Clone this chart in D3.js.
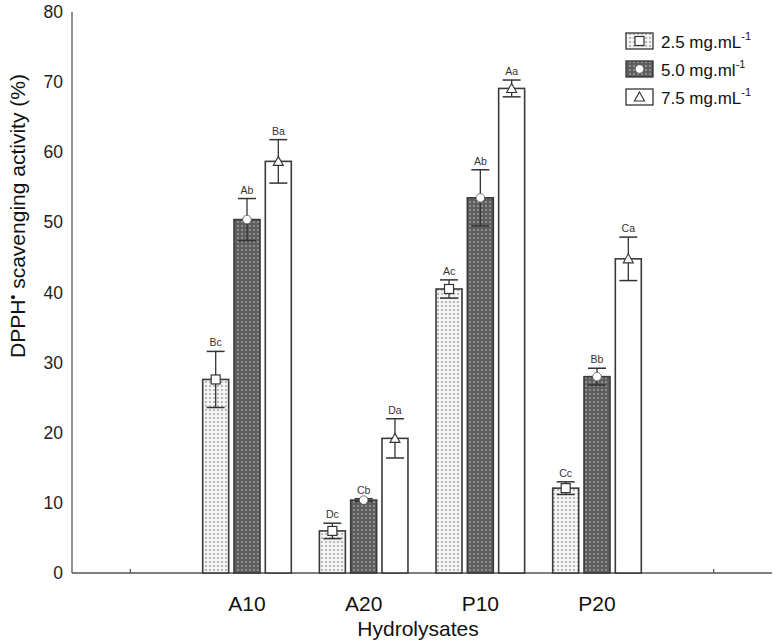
<!DOCTYPE html>
<html><head><meta charset="utf-8">
<script src="https://cdn.jsdelivr.net/npm/d3@7"></script>
<style>body{margin:0;background:#fff}svg{display:block}text{font-family:"Liberation Sans",Arial,sans-serif}</style>
</head><body><svg id="c" width="774" height="641"></svg>
<script>
const categories = ["", "A10", "A20", "P10", "P20", " "];
const groups = ["A10", "A20", "P10", "P20"];
const series = ["2.5", "5.0", "7.5"];
const legendLabels = [["2.5 mg.mL", "-1"], ["5.0 mg.ml", "-1"], ["7.5 mg.mL", "-1"]];
const values = [
  [27.6, 50.4, 58.7],
  [6.0, 10.4, 19.2],
  [40.5, 53.5, 69.1],
  [12.1, 28.0, 44.8]
];
const errors = [
  [4.0, 3.0, 3.1],
  [1.1, 0.2, 2.8],
  [1.3, 4.0, 1.2],
  [0.9, 1.2, 3.1]
];
const letters = [
  ["Bc", "Ab", "Ba"],
  ["Dc", "Cb", "Da"],
  ["Ac", "Ab", "Aa"],
  ["Cc", "Bb", "Ca"]
];
const yTicks = [0, 10, 20, 30, 40, 50, 60, 70, 80];

const svg = d3.select("#c");
const defs = svg.append("defs");
const p1 = defs.append("pattern").attr("id","pat1").attr("width",4).attr("height",4).attr("patternUnits","userSpaceOnUse");
p1.append("rect").attr("width",4).attr("height",4).attr("fill","#f4f4f4");
p1.append("rect").attr("x",1).attr("y",1).attr("width",2).attr("height",2).attr("fill","#b8b8b8");
const p2 = defs.append("pattern").attr("id","pat2").attr("width",4).attr("height",4).attr("patternUnits","userSpaceOnUse");
p2.append("rect").attr("width",4).attr("height",4).attr("fill","#5e5e5e");
p2.append("rect").attr("x",1).attr("y",1).attr("width",2).attr("height",2).attr("fill","#8e8e8e");
const fills = ["url(#pat1)", "url(#pat2)", "#fff"];

const x = d3.scaleBand().domain(categories).range([72, 772]);
const xs = d3.scaleBand().domain(series).range([-44.3, 44.3]).paddingInner(0.17);
const y = d3.scaleLinear().domain([0, 80]).range([573, 12]);
const cx = g => x(g) + x.bandwidth()/2;

// y axis
svg.append("line").attr("x1",72).attr("x2",72).attr("y1",y(80)).attr("y2",y(0)).attr("stroke","#555").attr("stroke-width",1.3);
svg.selectAll(".yt").data(yTicks).join("text")
  .attr("x",63).attr("y",d=>y(d)+6).attr("text-anchor","end")
  .attr("font-size",17.5).attr("fill","#222").text(d=>d);

// x axis + inward ticks
svg.append("line").attr("x1",72).attr("x2",772).attr("y1",y(0)).attr("y2",y(0)).attr("stroke","#555").attr("stroke-width",1.5);
svg.selectAll(".xt").data(categories).join("line")
  .attr("x1",d=>cx(d)).attr("x2",d=>cx(d)).attr("y1",y(0)).attr("y2",y(0)-4).attr("stroke","#555").attr("stroke-width",1.3);
svg.selectAll(".xl").data(groups).join("text")
  .attr("x",d=>cx(d)).attr("y",611).attr("text-anchor","middle")
  .attr("font-size",21).attr("fill","#111").text(d=>d);
svg.append("text").attr("x",418).attr("y",636).attr("text-anchor","middle").attr("font-size",21).attr("fill","#111").text("Hydrolysates");

// y title
const yt = svg.append("text").attr("transform","translate(25,216) rotate(-90)").attr("text-anchor","middle").attr("font-size",21).attr("fill","#111");
yt.append("tspan").text("DPPH");
yt.append("tspan").attr("dy",-7).attr("font-size",14).text("•");
yt.append("tspan").attr("dy",7).text(" scavenging activity (%)");

function marker(sel, si, mx, my) {
  if (si === 0) sel.append("rect").attr("x",mx-4.5).attr("y",my-4.5).attr("width",9).attr("height",9).attr("fill","#fff").attr("stroke","#333").attr("stroke-width",1.2);
  else if (si === 1) sel.append("circle").attr("cx",mx).attr("cy",my).attr("r",4.3).attr("fill","#fff").attr("stroke","#555").attr("stroke-width",0.8);
  else sel.append("path").attr("d",`M${mx},${my-5}L${mx+5},${my+4}L${mx-5},${my+4}Z`).attr("fill","#fff").attr("stroke","#333").attr("stroke-width",1.1);
}

groups.forEach((g, gi) => {
  series.forEach((s, si) => {
    const v = values[gi][si], e = errors[gi][si];
    const bx = cx(g) + xs(s), bw = xs.bandwidth(), mx = bx + bw/2;
    const G = svg.append("g");
    G.append("rect").attr("x",bx).attr("y",y(v)).attr("width",bw).attr("height",y(0)-y(v))
      .attr("fill",fills[si]).attr("stroke","#3a3a3a").attr("stroke-width",1.6);
    G.append("line").attr("x1",mx).attr("x2",mx).attr("y1",y(v+e)).attr("y2",y(v-e)).attr("stroke","#333").attr("stroke-width",1.3);
    [v+e, v-e].forEach(t => G.append("line").attr("x1",mx-9).attr("x2",mx+9).attr("y1",y(t)).attr("y2",y(t)).attr("stroke","#333").attr("stroke-width",1.5));
    marker(G, si, mx, y(v));
    G.append("text").attr("x",mx).attr("y",y(v+e)-5).attr("text-anchor","middle").attr("font-size",10.5).attr("fill","#333").text(letters[gi][si]);
  });
});

// legend
const L = svg.append("g");
legendLabels.forEach((lab, i) => {
  const ly = 33 + i*28;
  L.append("rect").attr("x",626).attr("y",ly).attr("width",27).attr("height",16).attr("fill",fills[i]).attr("stroke","#333").attr("stroke-width",1.3);
  marker(L, i, 639.5, ly+8);
  const t = L.append("text").attr("x",661).attr("y",ly+15).attr("font-size",17).attr("fill","#111");
  t.append("tspan").text(lab[0]);
  t.append("tspan").attr("dy",-8).attr("font-size",11).text(lab[1]);
});
</script></body></html>
